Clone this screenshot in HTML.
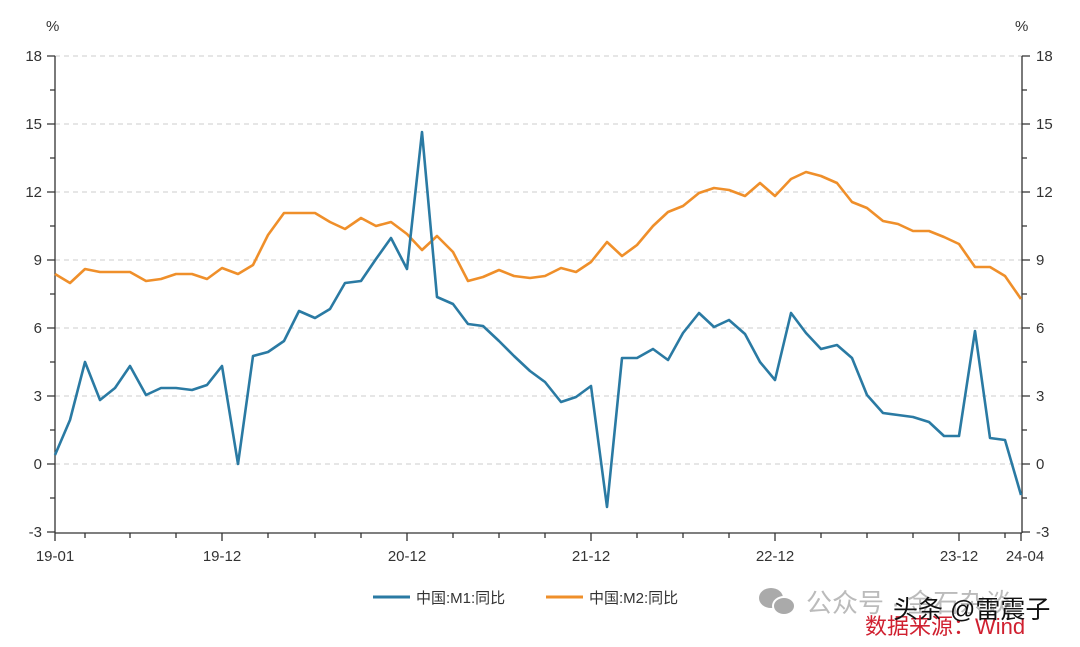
<!DOCTYPE html><html><head><meta charset="utf-8"><style>body{margin:0;background:#fff}svg{display:block}text{font-family:"Liberation Sans","Noto Sans CJK SC",sans-serif}</style></head><body>
<svg width="1080" height="647" viewBox="0 0 1080 647">
<g stroke="#ccc" stroke-dasharray="5,4" stroke-width="1">
<line x1="55" x2="1022" y1="56" y2="56"/><line x1="55" x2="1022" y1="124" y2="124"/><line x1="55" x2="1022" y1="192" y2="192"/><line x1="55" x2="1022" y1="260" y2="260"/><line x1="55" x2="1022" y1="328" y2="328"/><line x1="55" x2="1022" y1="396" y2="396"/><line x1="55" x2="1022" y1="464" y2="464"/>
</g>
<g stroke="#333" stroke-width="1.3" fill="none">
<line x1="55" y1="56" x2="55" y2="533"/><line x1="1022" y1="56" x2="1022" y2="533"/><line x1="55" y1="533" x2="1022" y2="533"/>
<path d="M47 56h8M47 124h8M47 192h8M47 260h8M47 328h8M47 396h8M47 464h8M47 532h8M50 90h5M50 158h5M50 226h5M50 294h5M50 362h5M50 430h5M50 498h5"/>
<path d="M1022 56h8M1022 124h8M1022 192h8M1022 260h8M1022 328h8M1022 396h8M1022 464h8M1022 532h8M1022 90h5M1022 158h5M1022 226h5M1022 294h5M1022 362h5M1022 430h5M1022 498h5"/>
<path d="M55 533v8M222 533v8M407 533v8M591 533v8M775 533v8M959 533v8M1021 533v8M85 533v5M130 533v5M176 533v5M268 533v5M315 533v5M361 533v5M453 533v5M499 533v5M545 533v5M637 533v5M683 533v5M729 533v5M821 533v5M867 533v5M913 533v5M1005 533v5"/>
</g>
<g font-size="15" fill="#333" text-anchor="end">
<text x="42" y="61">18</text><text x="42" y="129">15</text><text x="42" y="197">12</text><text x="42" y="265">9</text><text x="42" y="333">6</text><text x="42" y="401">3</text><text x="42" y="469">0</text><text x="42" y="537">-3</text>
</g>
<g font-size="15" fill="#333">
<text x="1036" y="61">18</text><text x="1036" y="129">15</text><text x="1036" y="197">12</text><text x="1036" y="265">9</text><text x="1036" y="333">6</text><text x="1036" y="401">3</text><text x="1036" y="469">0</text><text x="1036" y="537">-3</text>
<text x="46" y="31">%</text><text x="1015" y="31">%</text>
</g>
<g font-size="15" fill="#333" text-anchor="middle">
<text x="55" y="561">19-01</text><text x="222" y="561">19-12</text><text x="407" y="561">20-12</text><text x="591" y="561">21-12</text><text x="775" y="561">22-12</text><text x="959" y="561">23-12</text><text x="1025" y="561">24-04</text>
</g>
<polyline fill="none" stroke="#ef8f2a" stroke-width="2.6" stroke-linejoin="round" points="55,274 70,283 85,269 100,272 115,272 130,272 146,281 161,279 176,274 192,274 207,279 222,268 238,274 253,265 268,235 284,213 299,213 315,213 330,222 345,229 361,218 376,226 391,222 407,234 422,250 437,236 453,252 468,281 483,277 499,270 514,276 530,278 545,276 561,268 576,272 591,262 607,242 622,256 637,245 653,226 668,212 683,206 699,193 714,188 729,190 745,196 760,183 775,196 791,179 806,172 821,176 837,183 852,202 867,208 883,221 898,224 913,231 929,231 944,237 959,244 975,267 990,267 1005,276 1021,299"/>
<polyline fill="none" stroke="#2a7aa3" stroke-width="2.6" stroke-linejoin="round" points="55,455 70,420 85,362 100,400 115,388 130,366 146,395 161,388 176,388 192,390 207,385 222,366 238,464 253,356 268,352 284,341 299,311 315,318 330,309 345,283 361,281 376,259 391,238 407,269 422,132 437,297 453,304 468,324 483,326 499,341 514,356 530,371 545,382 561,402 576,397 591,386 607,507 622,358 637,358 653,349 668,360 683,333 699,313 714,327 729,320 745,334 760,362 775,380 791,313 806,333 821,349 837,345 852,358 867,395 883,413 898,415 913,417 929,422 944,436 959,436 975,331 990,438 1005,440 1021,495"/>
<line x1="373" y1="597" x2="410" y2="597" stroke="#2a7aa3" stroke-width="3"/>
<text x="416" y="603" font-size="15" fill="#333">中国:M1:同比</text>
<line x1="546" y1="597" x2="583" y2="597" stroke="#ef8f2a" stroke-width="3"/>
<text x="589" y="603" font-size="15" fill="#333">中国:M2:同比</text>
<g fill="#aaa"><ellipse cx="771" cy="598" rx="12" ry="10"/><ellipse cx="784" cy="606" rx="11" ry="9" stroke="#fff" stroke-width="2"/></g>
<text x="806" y="612" font-size="26" fill="#bbb">公众号 · 金石杂谈</text>
<text x="865" y="634" font-size="22" fill="#d02030">数据来源：Wind</text>
<text x="893" y="618" font-size="25" fill="#111">头条 @雷震子</text>
</svg></body></html>
